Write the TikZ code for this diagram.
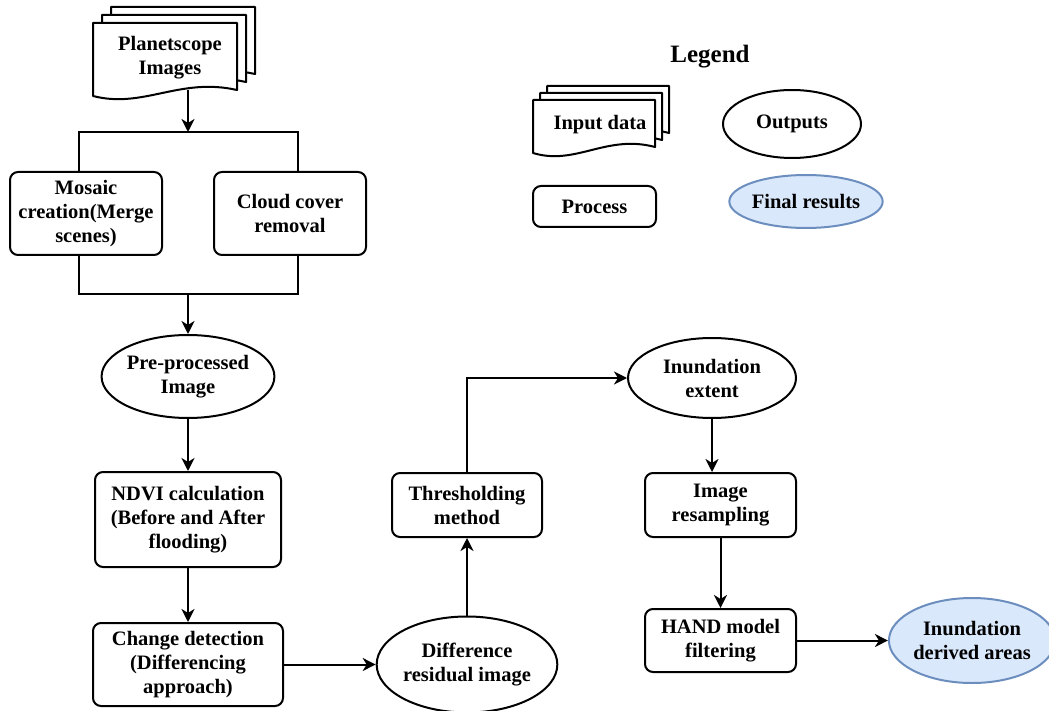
\documentclass[tikz,border=0pt]{standalone}
\usepackage{fontspec}
\setmainfont{Liberation Serif}
\usetikzlibrary{shapes.geometric,arrows.meta}

\definecolor{resfill}{HTML}{DAE8FC}
\definecolor{resline}{HTML}{6C8EBF}

% one sheet of a "document" symbol: left, top, width, height to the wavy edge
\newcommand{\docsheet}[4]{%
  \draw[sheet] (#1,#2) -- ({#1+#3},#2) -- ({#1+#3},{#2+#4-3})
    .. controls ({#1+0.6*#3},{#2+#4-16}) and ({#1+0.35*#3},{#2+#4+16}) ..
    (#1,{#2+#4+3}) -- cycle;}

\begin{document}
\begin{tikzpicture}[x=1pt,y=-1pt,
  every node/.style={font=\fontsize{20.5}{24}\selectfont\bfseries,
    align=center, inner sep=0pt},
  sheet/.style={draw, fill=white, line width=2pt, line join=round},
  conn/.style={line width=2pt},
  arr/.style={conn, -{Stealth[length=13pt,width=13pt,inset=4pt]}},
  procbox/.style={draw, line width=2pt, rounded corners=8pt, fill=white},
  outell/.style={ellipse, draw, line width=2pt, fill=white},
  finell/.style={ellipse, draw=resline, fill=resfill, line width=2pt}]

\useasboundingbox (0,0) rectangle (1049,711);

% ---------- input imagery ----------
\docsheet{111}{7}{144}{70}
\docsheet{102}{15}{144}{70}
\docsheet{93}{23}{144}{70}
\node (ps) at (170,58) {Planetscope\\Images};
\coordinate (psb) at (188,90);

% ---------- pre-processing branch ----------
\coordinate (split) at (188,132);
\coordinate (tl) at (79,132);
\coordinate (tr) at (298,132);
\coordinate (bl) at (79,294);
\coordinate (br) at (298,294);
\coordinate (join) at (188,294);

\node[procbox, minimum width=152pt, minimum height=83pt] (mosaic) at (86,213.5)
  {Mosaic\\creation(Merge\\scenes)};
\node[procbox, minimum width=152pt, minimum height=83pt] (cloud) at (290,213.5)
  {Cloud cover\\removal};

\draw[arr] (psb) -- (split);
\draw[conn] (tl |- mosaic.north) -- (tl) -- (tr) -- (tr |- cloud.north);
\draw[conn] (tl |- mosaic.south) -- (bl) -- (br) -- (br |- cloud.south);

\node[outell, minimum width=167pt, minimum height=83pt] (pre) at (188,376.5)
  {Pre-processed\\Image};
\draw[arr] (join) -- (join |- pre.north);

% ---------- change detection ----------
\node[procbox, minimum width=186pt, minimum height=95pt] (ndvi) at (188,519.5)
  {NDVI calculation\\(Before and After\\flooding)};
\node[procbox, minimum width=190pt, minimum height=83pt] (change) at (188,664.5)
  {Change detection\\(Differencing\\approach)};
\node[outell, minimum width=174pt, minimum height=96pt] (diff) at (467,664.5)
  {Difference\\residual image};
\node[procbox, minimum width=150pt, minimum height=64pt] (thresh) at (467,505)
  {Thresholding\\method};
\node[outell, minimum width=168pt, minimum height=80pt] (inund) at (712,378)
  {Inundation\\extent};
\node[procbox, minimum width=151pt, minimum height=64pt] (resamp) at (720.5,505)
  {Image\\resampling};
\node[procbox, minimum width=151pt, minimum height=63pt] (hand) at (720.5,640.5)
  {HAND model\\filtering};
\node[finell, minimum width=150pt, minimum height=85pt] (final) at (972,640.5)
  {Inundation\\derived areas};

\draw[arr] (pre.south) -- (ndvi.north);
\draw[arr] (ndvi.south) -- (change.north);
\draw[arr] (change.east) -- (diff.west);
\draw[arr] (diff.north) -- (thresh.south);
\draw[arr] (thresh.north) |- (inund.west);
\draw[arr] (inund.south) -- (inund.south |- resamp.north);
\draw[arr] (resamp.south) -- (hand.north);
\draw[arr] (hand.east) -- (final.west);

% ---------- legend ----------
\node[font=\fontsize{25}{28}\selectfont\bfseries] (legend) at (710,57) {Legend};
\docsheet{547}{86}{122}{50}
\docsheet{540}{93}{122}{50}
\docsheet{533}{100}{122}{50}
\node (lgin) at (600,125) {Input data};
\node[outell, minimum width=138pt, minimum height=68pt] (lgout) at (792,124) {Outputs};
\node[procbox, minimum width=123pt, minimum height=41pt] (lgproc) at (594.5,206.5) {Process};
\node[finell, minimum width=138pt, minimum height=53pt] (lgfin) at (806,201.5) {Final results};

\end{tikzpicture}
\end{document}
